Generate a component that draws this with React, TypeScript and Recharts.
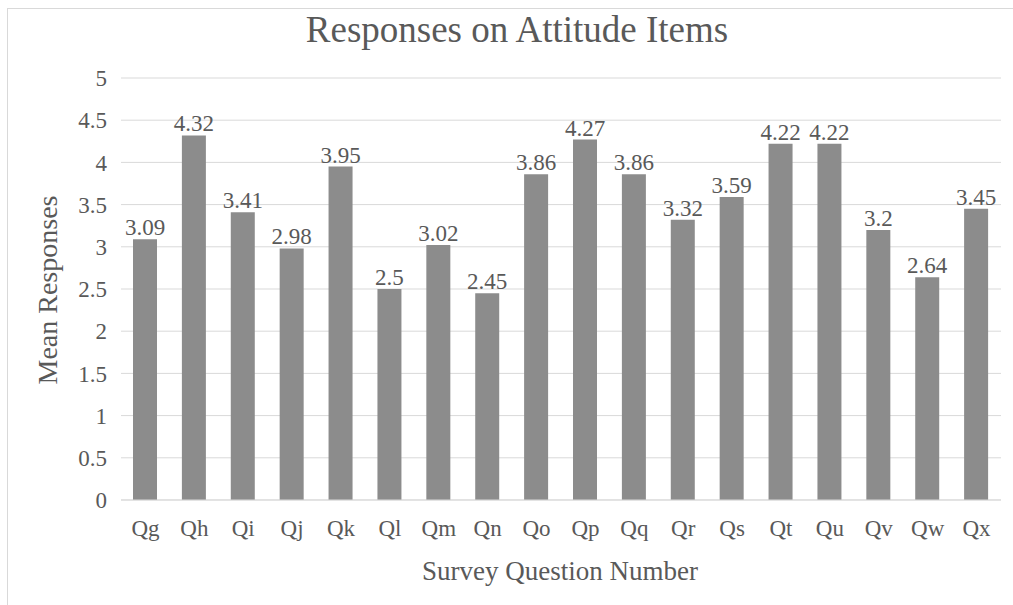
import React from "react";
import { Bar, BarChart, CartesianGrid, LabelList, XAxis, YAxis } from "recharts";

const questions = ["Qg", "Qh", "Qi", "Qj", "Qk", "Ql", "Qm", "Qn", "Qo", "Qp", "Qq", "Qr", "Qs", "Qt", "Qu", "Qv", "Qw", "Qx"];
const meanResponses = [3.09, 4.32, 3.41, 2.98, 3.95, 2.5, 3.02, 2.45, 3.86, 4.27, 3.86, 3.32, 3.59, 4.22, 4.22, 3.2, 2.64, 3.45];
const yTicks = [0, 0.5, 1, 1.5, 2, 2.5, 3, 3.5, 4, 4.5, 5];

const data = questions.map((q, i) => ({ question: q, mean: meanResponses[i] }));

const WIDTH = 1013;
const HEIGHT = 605;
const FONT = '"Liberation Serif", "Times New Roman", serif';
const TEXT = "#595959";
const GRID = "#d9d9d9";
const BAR = "#8c8c8c";

export default function App() {
  return (
    <div style={{ position: "absolute", left: 0, top: 0, width: WIDTH, height: HEIGHT, background: "#fff", fontFamily: FONT }}>
      <style>{`.recharts-text, .recharts-label, .recharts-cartesian-axis-tick-value { font-family: ${FONT} !important; }`}</style>
      <BarChart
        width={WIDTH}
        height={HEIGHT}
        data={data}
        margin={{ top: 78, right: 12, bottom: 75, left: 0 }}
        style={{ fontFamily: FONT }}
      >
        <CartesianGrid vertical={false} stroke={GRID} strokeWidth={1} />
        <XAxis
          dataKey="question"
          height={30}
          axisLine={{ stroke: GRID }}
          tickLine={false}
          tickSize={6}
          tickMargin={14}
          interval={0}
          tick={{ fill: TEXT, fontSize: 23, fontFamily: FONT }}
        />
        <YAxis
          width={121}
          domain={[0, 5]}
          ticks={yTicks}
          axisLine={false}
          tickLine={false}
          tickSize={6}
          tickMargin={8}
          tick={{ fill: TEXT, fontSize: 23, fontFamily: FONT }}
        />
        <Bar dataKey="mean" fill={BAR} barSize={24} isAnimationActive={false}>
          <LabelList
            dataKey="mean"
            position="top"
            offset={4}
            fill={TEXT}
            fontSize={23}
            fontFamily={FONT}
          />
        </Bar>
      </BarChart>

      {/* titles and frame drawn on top */}
      <svg
        width={WIDTH}
        height={HEIGHT}
        style={{ position: "absolute", left: 0, top: 0, pointerEvents: "none" }}
      >
        <rect x={7.5} y={8.5} width={1100} height={700} fill="none" stroke={GRID} strokeWidth={1} />
        <text x={517} y={42} textAnchor="middle" fill={TEXT} fontSize={37} fontFamily={FONT}>
          Responses on Attitude Items
        </text>
        <text x={560} y={580} textAnchor="middle" fill={TEXT} fontSize={27} fontFamily={FONT}>
          Survey Question Number
        </text>
        <text
          x={57}
          y={290}
          textAnchor="middle"
          fill={TEXT}
          fontSize={28}
          fontFamily={FONT}
          transform="rotate(-90 57 290)"
        >
          Mean Responses
        </text>
      </svg>
    </div>
  );
}
